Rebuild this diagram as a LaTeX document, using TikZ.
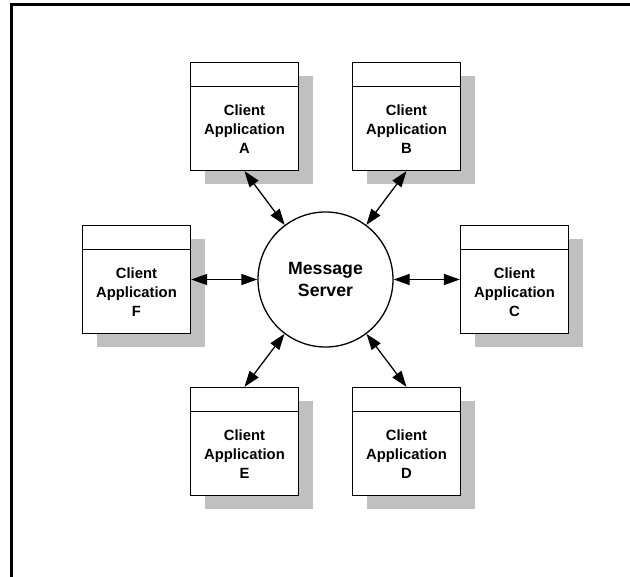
\documentclass[tikz,border=0pt]{standalone}
\usepackage{fontspec}
\setmainfont{Liberation Sans}
\usetikzlibrary{arrows.meta,shadows}
\definecolor{shadowgray}{HTML}{C0C0C0}
\tikzset{
  client/.style={draw, line width=1.3pt, fill=white, inner sep=0pt,
    minimum width=108pt, minimum height=108pt,
    drop shadow={shadow xshift=14pt, shadow yshift=-14pt, fill=shadowgray, opacity=1}},
  clientlabel/.style={inner sep=0pt, align=center,
    font=\fontsize{14.8}{19.2}\selectfont\bfseries},
  server/.style={circle, draw, line width=1.3pt, fill=white, inner sep=0pt,
    minimum size=135pt, align=center,
    font=\fontsize{17.7}{21}\selectfont\bfseries},
  link/.style={line width=1.3pt,
    {Triangle[length=16pt,width=11pt]}-{Triangle[length=16pt,width=11pt]}},
  frameline/.style={line width=3pt, line join=miter}
}
\begin{document}
\begin{tikzpicture}[x=1pt,y=-1pt]
\useasboundingbox (0,0) rectangle (630,577);
\clip (0,0) rectangle (630,577);

% page frame (top and left edges)
\draw[frameline] (11.5,600) -- (11.5,4.5) -- (660,4.5);

% message server
\node[server] (M) at (325.5,279.5) {Message\\Server};

% client applications
\node[client] (A) at (244.5,116.5) {};
\node[client] (B) at (406.5,116.5) {};
\node[client] (C) at (514.5,279.5) {};
\node[client] (F) at (136.5,279.5) {};
\node[client] (E) at (244.5,441.5) {};
\node[client] (D) at (406.5,441.5) {};

% title bars
\foreach \n in {A,B,C,D,E,F}
  \draw[line width=1.3pt] ([yshift=-25pt]\n.north west) -- ([yshift=-25pt]\n.north east);

% labels
\node[clientlabel] (Alab) at ([yshift=-12.5pt]A.center) {Client\\Application\\A};
\node[clientlabel] (Blab) at ([yshift=-12.5pt]B.center) {Client\\Application\\B};
\node[clientlabel] (Clab) at ([yshift=-12.5pt]C.center) {Client\\Application\\C};
\node[clientlabel] (Dlab) at ([yshift=-12.5pt]D.center) {Client\\Application\\D};
\node[clientlabel] (Elab) at ([yshift=-12.5pt]E.center) {Client\\Application\\E};
\node[clientlabel] (Flab) at ([yshift=-12.5pt]F.center) {Client\\Application\\F};

% connections
\draw[link] (A.south) -- (M);
\draw[link] (B.south) -- (M);
\draw[link] (M) -- (C.west);
\draw[link] (F.east) -- (M);
\draw[link] (E.north) -- (M);
\draw[link] (D.north) -- (M);
\end{tikzpicture}
\end{document}
